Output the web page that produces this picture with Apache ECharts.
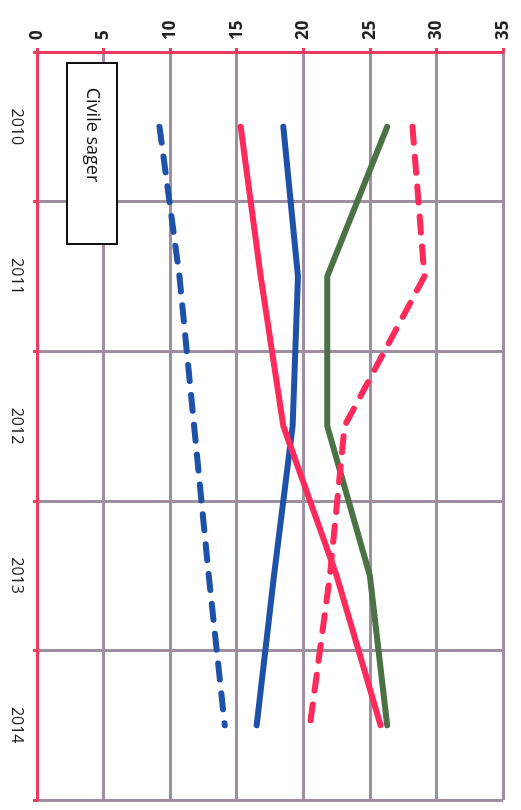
<!DOCTYPE html>
<html><head><meta charset="utf-8">
<script src="https://cdn.jsdelivr.net/npm/echarts@6/dist/echarts.min.js"></script>
<style>html,body{margin:0;padding:0;background:#fff}#c{width:521px;height:810px}</style>
</head><body><div id="c"></div>
<script>
var years = ['2010','2011','2012','2013','2014'];
var valueTicks = [0,5,10,15,20,25,30,35];
var blueDashed = [9.2, 10.7, 11.8, 12.9, 14.1];
var blueSolid = [18.5, 19.6, 19.2, 17.8, 16.5];
var redSolid = [15.3, 16.8, 18.5, 22.5, 25.8];
var greenSolid = [26.3, 21.8, 21.8, 25.0, 26.3];
var redDashed = [28.2, 29.1, 23.1, 22.0, 20.5];
var legendLabel = 'Civile sager';

var BLUE = '#1d52a8', RED = '#ff2a5c', GREEN = '#4a7245', GRIDC = '#9d8f9e', AXISC = '#ec3a60';
function pairs(arr){ return arr.map(function(v,i){ return [v, years[i]]; }); }
function line(name, arr, color, dashed){
  return { name:name, type:'line', data:pairs(arr), symbol:'none', smooth:false,
    lineStyle:{ color:color, width:6, type: dashed ? [16,14] : 'solid', cap:'round', join:'round' } };
}
var chart = echarts.init(document.getElementById('c'));
chart.setOption({
  animation:false,
  grid:{ left:37, top:52, right:18, bottom:10 },
  xAxis:{ type:'value', position:'top', min:0, max:35, interval:5,
    axisLine:{ show:true, lineStyle:{ color:AXISC, width:3 } },
    axisTick:{ show:true, length:4, lineStyle:{ color:AXISC, width:3 } },
    axisLabel:{ rotate:-90, color:'#222', fontSize:17, fontWeight:'bold', fontFamily:'Open Sans', margin:12 },
    splitLine:{ show:true, lineStyle:{ color:GRIDC, width:3 } } },
  yAxis:{ type:'category', inverse:true, data:years, boundaryGap:true,
    axisLine:{ show:true, lineStyle:{ color:AXISC, width:3 } },
    axisTick:{ show:true, length:4, lineStyle:{ color:AXISC, width:3 } },
    axisLabel:{ rotate:-90, color:'#222', fontSize:16, fontFamily:'Open Sans', margin:12 },
    splitLine:{ show:true, lineStyle:{ color:GRIDC, width:3 } } },
  series:[
    line('blueDashed', blueDashed, BLUE, true),
    line('blueSolid', blueSolid, BLUE, false),
    line('redSolid', redSolid, RED, false),
    line('greenSolid', greenSolid, GREEN, false),
    line('redDashed', redDashed, RED, true)
  ],
  graphic:[
    { type:'rect', shape:{ x:67, y:63, width:50, height:181 }, style:{ fill:'#fff', stroke:'#111', lineWidth:2 }, z:100 },
    { type:'text', x:92, y:135, rotation:-Math.PI/2, z:101,
      style:{ text:legendLabel, fill:'#111', font:'18px "Open Sans"', align:'center', verticalAlign:'middle' } }
  ]
});
</script></body></html>
